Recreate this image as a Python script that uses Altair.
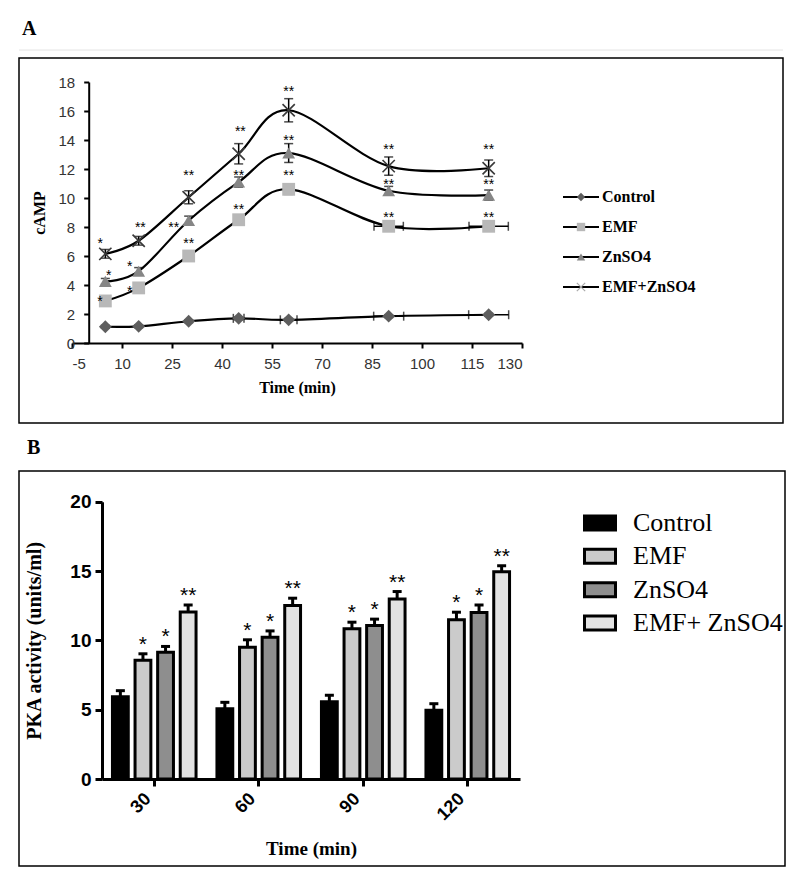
import altair as alt
import pandas as pd

# ---------------- Panel A : cAMP time course ----------------
series = ["Control", "EMF", "ZnSO4", "EMF+ZnSO4"]
times_a = [5, 15, 30, 45, 60, 90, 120]

camp_control = [1.12, 1.15, 1.5, 1.7, 1.6, 1.85, 1.95]
camp_emf = [2.9, 3.8, 6.0, 8.5, 10.6, 8.05, 8.05]
camp_zn = [4.25, 4.95, 8.45, 11.1, 13.1, 10.5, 10.2]
camp_combo = [6.15, 7.05, 10.05, 13.05, 16.05, 12.2, 12.05]

camp_err_control = [0.1, 0.1, 0.1, 0.1, 0.1, 0.1, 0.1]
camp_err_emf = [0.2, 0.25, 0.25, 0.3, 0.35, 0.25, 0.25]
camp_err_zn = [0.2, 0.25, 0.3, 0.35, 0.65, 0.3, 0.35]
camp_err_combo = [0.3, 0.3, 0.45, 0.7, 0.8, 0.63, 0.57]

time_err_control = [0, 0, 0, 1.6, 2.5, 4.5, 6.0]
time_err_emf = [0, 0, 0, 0, 0, 4.4, 5.9]
time_err_zn = [0, 0, 0, 0, 0, 0, 0]
time_err_combo = [0, 0, 0, 0, 0, 0, 0]

star_a_series = ["EMF+ZnSO4"] * 7 + ["ZnSO4"] * 7 + ["EMF"] * 7
star_a_text = ["*", "**", "**", "**", "**", "**", "**",
               "*", "*", "**", "**", "**", "**", "**",
               "*", "*", "**", "**", "**", "**", "**"]
star_a_x = [3.5, 15.5, 30, 45.5, 60, 90, 120,
            6, 12.3, 25.5, 45, 60, 90, 120,
            3.4, 12.3, 30, 45, 60, 90, 120]
star_a_y = [7.1, 8.2, 11.8, 14.8, 17.6, 13.6, 13.6,
            4.9, 5.5, 8.2, 11.8, 14.2, 11.2, 11.2,
            3.1, 3.8, 7.1, 9.45, 11.8, 8.9, 8.9]

# ---------------- Panel B : PKA activity ----------------
times_b = ["30", "60", "90", "120"]
series_b = ["Control", "EMF", "ZnSO4", "EMF+ ZnSO4"]
pka_control = [5.93, 5.06, 5.57, 4.96]
pka_emf = [8.56, 9.5, 10.84, 11.49]
pka_zn = [9.14, 10.22, 11.08, 12.01]
pka_combo = [12.04, 12.52, 12.98, 14.94]
pka_err_control = [0.44, 0.47, 0.47, 0.47]
pka_err_emf = [0.47, 0.54, 0.47, 0.54]
pka_err_zn = [0.42, 0.46, 0.45, 0.54]
pka_err_combo = [0.51, 0.52, 0.54, 0.44]
pka_stars = ["", "*", "*", "**"]

# ---------------- tables ----------------
rows_a = []
for s, vals, errs, terrs in zip(
        series,
        [camp_control, camp_emf, camp_zn, camp_combo],
        [camp_err_control, camp_err_emf, camp_err_zn, camp_err_combo],
        [time_err_control, time_err_emf, time_err_zn, time_err_combo]):
    for t, v, e, te in zip(times_a, vals, errs, terrs):
        rows_a.append(dict(series=s, time=t, value=v, lo=v - e, hi=v + e,
                           tlo=t - te, thi=t + te, terr=te))
df_a = pd.DataFrame(rows_a)
df_stars_a = pd.DataFrame(dict(series=star_a_series, x=star_a_x, y=star_a_y, text=star_a_text))
df_leg_a = pd.DataFrame(dict(series=series))

rows_b = []
for s, vals, errs, st in zip(
        series_b,
        [pka_control, pka_emf, pka_zn, pka_combo],
        [pka_err_control, pka_err_emf, pka_err_zn, pka_err_combo],
        pka_stars):
    for t, v, e in zip(times_b, vals, errs):
        rows_b.append(dict(group=s, time=t, value=v, hi=v + e, star=st))
df_b = pd.DataFrame(rows_b)
df_leg_b = pd.DataFrame(dict(group=series_b))

SANS = "Liberation Sans"
SERIF = "Liberation Serif"

# ================= Panel A =================
W_A, H_A = 764, 365
xs_a = alt.Scale(domain=[-5, 130], range=[53, 503], nice=False, zero=False)
ys_a = alt.Scale(domain=[0, 18], range=[285, 24], nice=False, zero=False)

ax_x_a = alt.Axis(orient="bottom", values=list(range(-5, 131, 15)), offset=-80, grid=False,
                  labelExpr="'' + datum.value",
                  domainColor="black", domainWidth=2, tickColor="black", tickWidth=2,
                  tickSize=5, labelFont=SANS, labelFontSize=15, labelColor="#333",
                  labelPadding=8, title="Time (min)", titleFont=SERIF, titleFontSize=16,
                  titleFontWeight="bold", titleColor="black", titlePadding=8)
ax_y_a = alt.Axis(orient="left", values=list(range(0, 19, 2)), offset=-69.7, grid=False,
                  domainColor="black", domainWidth=2, tickColor="black", tickWidth=2,
                  tickSize=5, labelFont=SANS, labelFontSize=15, labelColor="#333",
                  labelPadding=9, title="cAMP", titleFont=SERIF, titleFontSize=16,
                  titleFontWeight="bold", titleColor="black", titlePadding=11)

shape_scale = alt.Scale(domain=series, range=["diamond", "square", "triangle-up", "M-1,-1L1,1M-1,1L1,-1"])
fill_scale = alt.Scale(domain=series, range=["#5e5e5e", "#b8b8b8", "#868686", "#444444"])

base_a = alt.Chart(df_a)
lines_a = base_a.mark_line(interpolate="cardinal", color="black", strokeWidth=2.2).encode(
    x=alt.X("time:Q", scale=xs_a, axis=ax_x_a),
    y=alt.Y("value:Q", scale=ys_a, axis=ax_y_a),
    detail="series:N",
)
terr_rule = base_a.transform_filter("datum.terr > 0").mark_rule(color="black", strokeWidth=1.5).encode(
    x=alt.X("tlo:Q", scale=xs_a), x2="thi:Q",
    y=alt.Y("value:Q", scale=ys_a))
terr_cap_lo = base_a.transform_filter("datum.terr > 0").mark_tick(
    color="black", orient="vertical", size=9, thickness=1.5).encode(
    x=alt.X("tlo:Q", scale=xs_a), y=alt.Y("value:Q", scale=ys_a))
terr_cap_hi = base_a.transform_filter("datum.terr > 0").mark_tick(
    color="black", orient="vertical", size=9, thickness=1.5).encode(
    x=alt.X("thi:Q", scale=xs_a), y=alt.Y("value:Q", scale=ys_a))
verr_rule = base_a.mark_rule(color="black", strokeWidth=1.5).encode(
    x=alt.X("time:Q", scale=xs_a),
    y=alt.Y("lo:Q", scale=ys_a), y2="hi:Q")
verr_cap_lo = base_a.mark_tick(color="black", orient="horizontal", size=9, thickness=1.5).encode(
    x=alt.X("time:Q", scale=xs_a), y=alt.Y("lo:Q", scale=ys_a))
verr_cap_hi = base_a.mark_tick(color="black", orient="horizontal", size=9, thickness=1.5).encode(
    x=alt.X("time:Q", scale=xs_a), y=alt.Y("hi:Q", scale=ys_a))
pts_filled = base_a.transform_filter("datum.series != 'EMF+ZnSO4'").mark_point(
    filled=True, size=165, opacity=1).encode(
    x=alt.X("time:Q", scale=xs_a), y=alt.Y("value:Q", scale=ys_a),
    shape=alt.Shape("series:N", scale=shape_scale, legend=None),
    fill=alt.Fill("series:N", scale=fill_scale, legend=None))
pts_x = base_a.transform_filter("datum.series == 'EMF+ZnSO4'").mark_point(
    shape="M-1,-1L1,1M-1,1L1,-1", filled=False, size=150, stroke="#3a3a3a", strokeWidth=1.6,
    opacity=1).encode(
    x=alt.X("time:Q", scale=xs_a), y=alt.Y("value:Q", scale=ys_a))
stars_a = alt.Chart(df_stars_a).mark_text(font=SANS, fontSize=14, color="black",
                                          baseline="alphabetic", dy=8).encode(
    x=alt.X("x:Q", scale=xs_a), y=alt.Y("y:Q", scale=ys_a), text="text:N")

main_a = alt.layer(lines_a, terr_rule, terr_cap_lo, terr_cap_hi, verr_rule, verr_cap_lo,
                   verr_cap_hi, pts_filled, pts_x, stars_a)

leg_y_a = alt.Y("series:N", scale=alt.Scale(type="point", domain=series, range=[139, 229], padding=0),
                axis=None)
leg_base_a = alt.Chart(df_leg_a)
leg_rule_a = leg_base_a.mark_rule(color="black", strokeWidth=2.2).encode(
    x=alt.value(544), x2=alt.value(580), y=leg_y_a)
leg_pts_a = leg_base_a.transform_filter("datum.series != 'EMF+ZnSO4'").mark_point(
    filled=True, size=70, opacity=1).encode(
    x=alt.value(562), y=leg_y_a,
    shape=alt.Shape("series:N", scale=shape_scale, legend=None),
    fill=alt.Fill("series:N", scale=fill_scale, legend=None))
leg_x_a = leg_base_a.transform_filter("datum.series == 'EMF+ZnSO4'").mark_point(
    shape="M-1,-1L1,1M-1,1L1,-1", filled=False, size=70, stroke="#aaaaaa", strokeWidth=1.2,
    opacity=1).encode(x=alt.value(562), y=leg_y_a)
leg_text_a = leg_base_a.mark_text(font=SERIF, fontSize=16, fontWeight="bold", align="left",
                                  baseline="middle", color="black").encode(
    x=alt.value(583), y=leg_y_a, text="series:N")
sep_rule = alt.Chart(pd.DataFrame(dict(k=[0]))).mark_rule(color="#e4e4e4", strokeWidth=1).encode(
    x=alt.value(0), x2=alt.value(W_A), y=alt.value(-8))
legend_a = alt.layer(leg_rule_a, leg_pts_a, leg_x_a, leg_text_a, sep_rule)

panel_a = alt.layer(main_a, legend_a).resolve_scale(y="independent").properties(
    width=W_A, height=H_A,
    title=alt.TitleParams("A", anchor="start", frame="group", dx=3, offset=11, font=SERIF,
                          fontSize=20, fontWeight="bold", color="black"))

# ================= Panel B =================
W_B, H_B = 766, 395
xs_b = alt.Scale(domain=times_b, range=[83, 501], paddingInner=0.2, paddingOuter=0.1)
xo_b = alt.Scale(domain=series_b, paddingInner=0.3, paddingOuter=0)
ys_b = alt.Scale(domain=[0, 20], range=[308, 30.7], nice=False, zero=False)
fill_b = alt.Scale(domain=series_b, range=["#000000", "#cbcbcb", "#8e8e8e", "#e2e2e2"])

ax_x_b = alt.Axis(orient="bottom", offset=-(H_B - 308), grid=False, domainColor="black",
                  domainWidth=3, tickColor="black", tickWidth=3, tickSize=7, labelAngle=-45,
                  labelAlign="right", labelBaseline="middle", labelOffset=-6,
                  labelFont=SANS, labelFontSize=18, labelFontWeight="bold", labelColor="black",
                  labelPadding=10, title="Time (min)", titleFont=SERIF, titleFontSize=19,
                  titleFontWeight="bold", titleColor="black", titlePadding=16)
ax_y_b = alt.Axis(orient="left", values=[0, 5, 10, 15, 20], offset=-83, grid=False,
                  domainColor="black", domainWidth=3, tickColor="black", tickWidth=3, tickSize=7,
                  labelFont=SANS, labelFontSize=19, labelFontWeight="bold", labelColor="black",
                  labelPadding=4, title="PKA activity (units/ml)", titleFont=SERIF,
                  titleFontSize=20, titleFontWeight="bold", titleColor="black", titlePadding=25)

base_b = alt.Chart(df_b)
bars_b = base_b.mark_bar(stroke="black", strokeWidth=3, opacity=1).encode(
    x=alt.X("time:N", scale=xs_b, axis=ax_x_b, sort=times_b),
    xOffset=alt.XOffset("group:N", scale=xo_b, sort=series_b),
    y=alt.Y("value:Q", scale=ys_b, axis=ax_y_b),
    fill=alt.Fill("group:N", scale=fill_b, legend=None))
err_b = base_b.mark_rule(color="black", strokeWidth=3).encode(
    x=alt.X("time:N", scale=xs_b, sort=times_b),
    xOffset=alt.XOffset("group:N", scale=xo_b, sort=series_b),
    y=alt.Y("value:Q", scale=ys_b), y2="hi:Q")
cap_b = base_b.mark_tick(color="black", orient="horizontal", size=9, thickness=3, opacity=1).encode(
    x=alt.X("time:N", scale=xs_b, sort=times_b),
    xOffset=alt.XOffset("group:N", scale=xo_b, sort=series_b),
    y=alt.Y("hi:Q", scale=ys_b))
stars_b = base_b.mark_text(font=SANS, fontSize=21, color="black", baseline="alphabetic", dy=-3).encode(
    x=alt.X("time:N", scale=xs_b, sort=times_b),
    xOffset=alt.XOffset("group:N", scale=xo_b, sort=series_b),
    y=alt.Y("hi:Q", scale=ys_b), text="star:N")
main_b = alt.layer(bars_b, err_b, cap_b, stars_b)

leg_y_b = alt.Y("group:N", scale=alt.Scale(type="band", domain=series_b, range=[35.25, 168.75],
                                            paddingInner=0.58, paddingOuter=0.29), axis=None)
leg_base_b = alt.Chart(df_leg_b)
leg_rect_b = leg_base_b.mark_rect(stroke="black", strokeWidth=3, opacity=1).encode(
    x=alt.value(565.5), x2=alt.value(596.5), y=leg_y_b,
    fill=alt.Fill("group:N", scale=fill_b, legend=None))
leg_text_b = leg_base_b.mark_text(font=SERIF, fontSize=26, align="left", baseline="middle",
                                  color="black").encode(
    x=alt.value(614), y=leg_y_b, text="group:N")
legend_b = alt.layer(leg_rect_b, leg_text_b)

panel_b = alt.layer(main_b, legend_b).resolve_scale(y="independent").properties(
    width=W_B, height=H_B,
    title=alt.TitleParams("B", anchor="start", frame="group", dx=8, offset=13, font=SERIF,
                          fontSize=20, fontWeight="bold", color="black"))

chart = alt.vconcat(panel_a, panel_b, spacing=13).resolve_scale(
    fill="independent", shape="independent"
).properties(
    padding={"left": 9, "top": 9, "right": 0, "bottom": 0}
).configure_view(stroke="black", strokeWidth=1.5)

chart.save("out.html", embed_options={"renderer": "svg", "actions": False})
